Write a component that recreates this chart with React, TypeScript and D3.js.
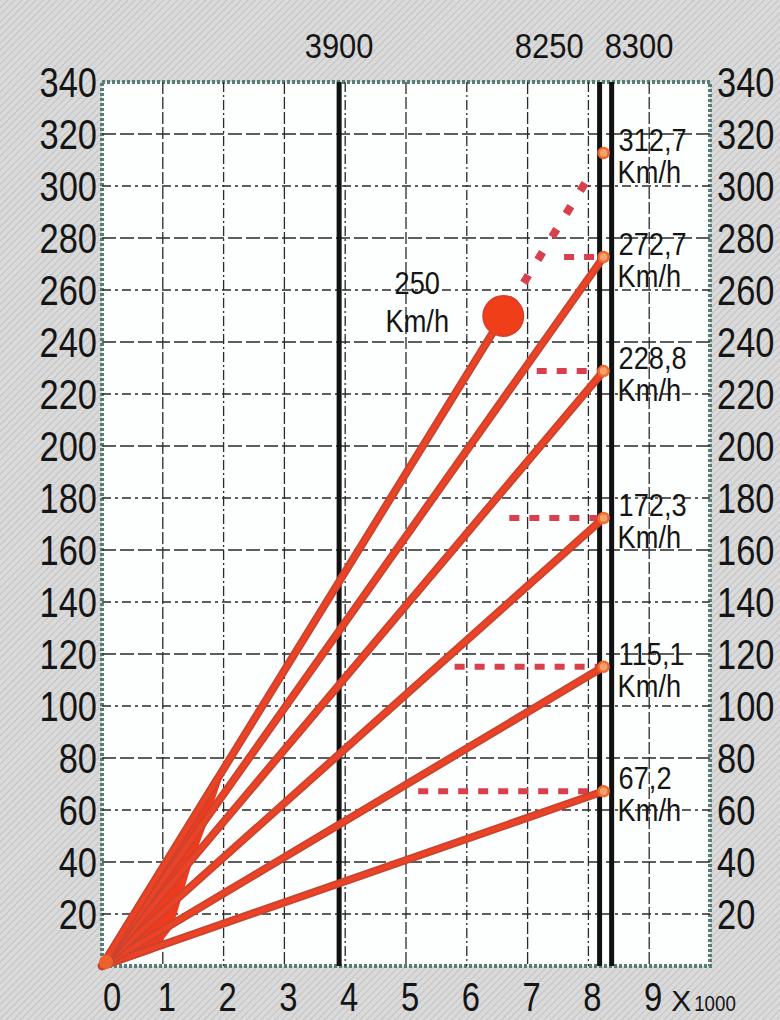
import React, { useEffect, useRef } from 'react'
import * as d3 from 'd3'

// rpm in thousands, speed in km/h
const X_TICKS = [0, 1, 2, 3, 4, 5, 6, 7, 8, 9]
const Y_TICKS = [20, 40, 60, 80, 100, 120, 140, 160, 180, 200, 220, 240, 260, 280, 300, 320, 340]
const GEAR_TOP = [67.2, 115.1, 172.3, 228.8, 272.7, 312.7]
const GEAR_TEXT = ['67,2', '115,1', '172,3', '228,8', '272,7', '312,7']
const REV_LIMIT = 8.25
const REF_RPM = [3.9, 8.25, 8.3]
const REF_TEXT = ['3900', '8250', '8300']
const MAX_SPEED = 250
const MAX_SPEED_RPM = 6.6
// rpm where the dashed "drop" line of each gear starts (gears 1-5)
const DROP_START = [5.2, 5.8, 6.7, 7.15, 7.6]
// filled wedge near the origin: [gear index, rpm]
const WEDGE: [number, number][] = [[5, 1.9], [4, 1.65], [3, 1.4], [1, 1.1], [0, 0.8]]

const FONT = '"Liberation Sans", Arial, sans-serif'

export default function App() {
  const ref = useRef<SVGSVGElement | null>(null)

  useEffect(() => {
    const width = 780
    const height = 1020
    const svg = d3.select(ref.current!)
    svg.selectAll('*').remove()

    const x = d3.scaleLinear().domain([0, 10]).range([102, 710])
    const y = d3.scaleLinear().domain([0, 340]).range([966, 82])
    const slope = (g: number) => GEAR_TOP[g] / REV_LIMIT

    const defs = svg.append('defs')
    const pat = defs.append('pattern').attr('id', 'hatch').attr('width', 5).attr('height', 5)
      .attr('patternUnits', 'userSpaceOnUse').attr('patternTransform', 'rotate(45)')
    pat.append('rect').attr('width', 5).attr('height', 5).attr('fill', '#dadada')
    pat.append('line').attr('x1', 0).attr('y1', 0).attr('x2', 0).attr('y2', 5).attr('stroke', '#c2c2c2').attr('stroke-width', 2)

    svg.append('rect').attr('width', width).attr('height', height).attr('fill', 'url(#hatch)')

    // plot area
    svg.append('rect').attr('x', x(0)).attr('y', y(340)).attr('width', x(10) - x(0)).attr('height', y(0) - y(340))
      .attr('fill', '#fdfefe').attr('stroke', '#557f76').attr('stroke-width', 4).attr('stroke-dasharray', '3,2')

    const narrow = (sel: d3.Selection<SVGGElement, unknown, null, undefined>, tx: number, ty: number, text: string,
      size: number, anchor: string, sx = 0.82) => {
      sel.append('text').attr('transform', `translate(${tx},${ty}) scale(${sx},1)`)
        .attr('text-anchor', anchor).attr('font-family', FONT).attr('font-size', size).attr('fill', '#151515')
        .text(text)
    }

    const grid = svg.append('g').attr('stroke', '#2a2a2a').attr('stroke-width', 1.3)
    grid.selectAll('line.v').data(d3.range(1, 10)).enter().append('line')
      .attr('x1', d => x(d)).attr('x2', d => x(d)).attr('y1', y(340)).attr('y2', y(0))
      .attr('stroke-dasharray', (d, i) => (i % 2 ? '10,3,2,3' : '12,3'))
    grid.selectAll('line.h').data(Y_TICKS.filter(d => d < 340)).enter().append('line')
      .attr('x1', x(0)).attr('x2', x(10)).attr('y1', d => y(d)).attr('y2', d => y(d))
      .attr('stroke-dasharray', (d, i) => (i % 2 ? '14,4' : '9,4,3,4'))

    // reference rpm lines
    const refDx = [0, -4, 5]
    svg.append('g').selectAll('line').data(REF_RPM).enter().append('line')
      .attr('x1', (d, i) => x(d) + refDx[i]).attr('x2', (d, i) => x(d) + refDx[i])
      .attr('y1', y(340)).attr('y2', y(0)).attr('stroke', '#111').attr('stroke-width', 5)

    const labels = svg.append('g')
    const refAnchor = ['middle', 'end', 'start']
    const refTextDx = [0, -20, -2]
    REF_RPM.forEach((r, i) => narrow(labels, x(r) + refTextDx[i], 58, REF_TEXT[i], 36, refAnchor[i], 0.86))

    // axes labels
    Y_TICKS.forEach(t => {
      narrow(labels, 97, y(t) + 15, String(t), 42, 'end')
      narrow(labels, 717, y(t) + 15, String(t), 42, 'start')
    })
    X_TICKS.forEach(t => narrow(labels, x(t) + (t === 0 ? 10 : 4), 1011, String(t), 40, 'middle'))
    narrow(labels, x(9) + 22, 1011, 'X', 30, 'start', 1)
    narrow(labels, x(9) + 45, 1011, '1000', 22, 'start', 0.85)

    const red = '#ec4226'
    const line = d3.line<[number, number]>().x(d => x(d[0])).y(d => y(d[1]))

    // dashed drop lines
    svg.append('g').selectAll('line').data(DROP_START).enter().append('line')
      .attr('x1', d => x(d)).attr('x2', x(REV_LIMIT) - 6)
      .attr('y1', (d, i) => y(GEAR_TOP[i])).attr('y2', (d, i) => y(GEAR_TOP[i]))
      .attr('stroke', '#d9404e').attr('stroke-width', 6).attr('stroke-dasharray', '10,10')

    // wedge near origin
    const wedge: [number, number][] = [[0, 0], ...WEDGE.map(([g, r]) => [r, slope(g) * r] as [number, number])]
    svg.append('path').attr('d', line(wedge) + 'Z').attr('fill', '#f03a1c').attr('stroke', '#f03a1c')
      .attr('stroke-width', 8).attr('stroke-linejoin', 'round')

    // gear lines
    const gears = svg.append('g')
    GEAR_TOP.forEach((v, g) => {
      const end = g === GEAR_TOP.length - 1 ? MAX_SPEED_RPM : REV_LIMIT
      const pts: [number, number][] = [[0, 0], [end, slope(g) * end]]
      gears.append('path').attr('d', line(pts)).attr('stroke', '#c9442f').attr('stroke-width', 8)
        .attr('fill', 'none').attr('stroke-linecap', 'round')
      gears.append('path').attr('d', line(pts)).attr('stroke', red).attr('stroke-width', 4.5)
        .attr('fill', 'none').attr('stroke-linecap', 'round')
    })

    // dotted extension of top gear
    const g6 = GEAR_TOP.length - 1
    gears.append('path').attr('d', line([[MAX_SPEED_RPM, MAX_SPEED], [8.05, slope(g6) * 8.05]]))
      .attr('stroke', '#d9404e').attr('stroke-width', 8).attr('fill', 'none').attr('stroke-dasharray', '9,18')
      .attr('stroke-dashoffset', -12)

    // end markers
    gears.selectAll('circle.end').data(GEAR_TOP).enter().append('circle')
      .attr('cx', x(REV_LIMIT)).attr('cy', d => y(d)).attr('r', 5)
      .attr('fill', '#f6a070').attr('stroke', '#ef6a2c').attr('stroke-width', 2.5)
    gears.append('circle').attr('cx', x(0) + 4).attr('cy', y(0) - 4).attr('r', 7).attr('fill', '#f0602c')

    // top speed point
    gears.append('circle').attr('cx', x(MAX_SPEED_RPM)).attr('cy', y(MAX_SPEED)).attr('r', 20)
      .attr('fill', '#f03f18').attr('stroke', '#d8402a').attr('stroke-width', 2)
    narrow(labels, x(MAX_SPEED_RPM) - 86, y(MAX_SPEED) - 22, String(MAX_SPEED), 32, 'middle', 0.85)
    narrow(labels, x(MAX_SPEED_RPM) - 86, y(MAX_SPEED) + 16, 'Km/h', 32, 'middle', 0.85)

    // gear speed labels
    GEAR_TOP.forEach((v, g) => {
      narrow(labels, x(REV_LIMIT) + 15, y(v) - 2, GEAR_TEXT[g], 32, 'start', 0.85)
      narrow(labels, x(REV_LIMIT) + 14, y(v) + 30, 'Km/h', 32, 'start', 0.85)
    })
    labels.raise()
  }, [])

  return <svg ref={ref} width={780} height={1020} style={{ position: 'absolute', left: 0, top: 0, display: 'block' }} />
}
